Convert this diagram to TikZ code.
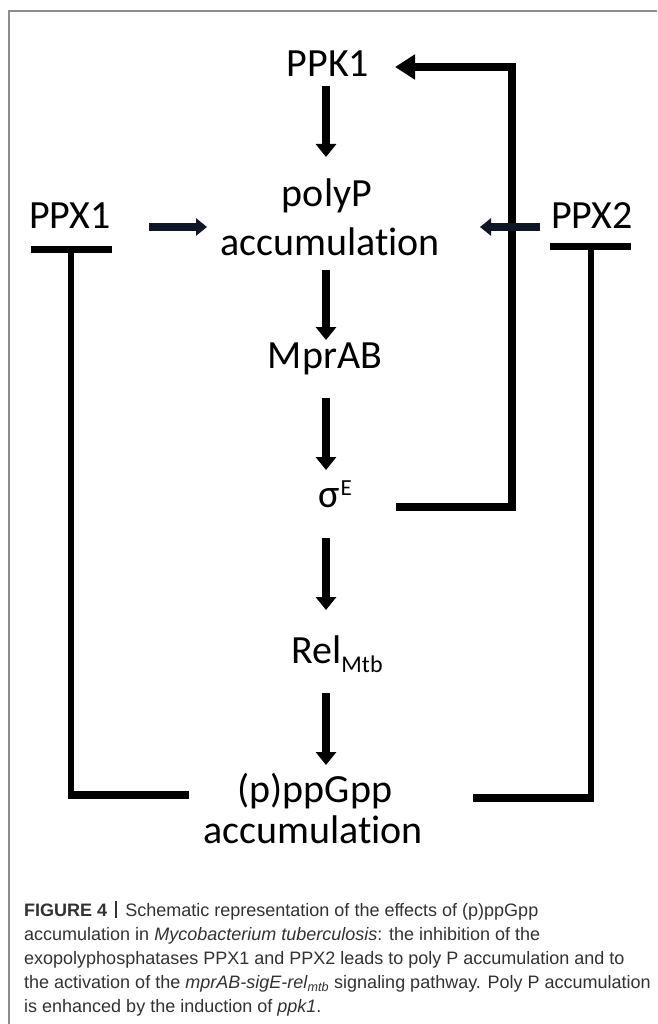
\documentclass[tikz,border=0pt]{standalone}
\usepackage{fontspec}
\usepackage{graphicx}
\usetikzlibrary{arrows.meta,calc}
\newfontfamily\carl[Ligatures=NoCommon]{Carlito}
\newfontfamily\capfont{Liberation Sans}
\definecolor{framegray}{RGB}{140,140,140}
\definecolor{capgray}{RGB}{50,50,50}
\definecolor{navyarr}{RGB}{14,22,40}
\tikzset{
  lbl/.style={font=\carl\fontsize{40}{48}\selectfont, inner sep=0pt, text height=28pt, text depth=9pt, anchor=base},
  captxt/.style={font=\capfont\fontsize{18}{24}\selectfont, inner sep=0pt, anchor=base west, text=capgray},
  varr/.style={line width=8pt, -{Triangle[length=13pt,width=20pt]}},
  harr/.style={line width=8pt, draw=navyarr, -{Triangle[length=11pt,width=17pt]}, color=navyarr},
  fbarr/.style={line width=8pt, line join=miter, -{Triangle[length=20pt,width=24pt]}},
  inhbar/.style={line width=7pt},
  inhline/.style={line width=6pt},
  inhfoot/.style={line width=8pt}
}
\begin{document}
\begin{tikzpicture}[x=1pt,y=-1pt]
\useasboundingbox (0,0) rectangle (657,1024);
\fill[white] (0,0) rectangle (657,1024);
% frame
\draw[framegray, line width=1.5pt] (9,1024) -- (9,11) -- (657,11);

% nodes
\node[lbl] (ppk) at (328,77) {PPK1};
\node[lbl] (polyp) at (327,207) {polyP};
\node[lbl] (polyacc) at (330,255) {accumulation};
\node[lbl] (ppx1) at (70,229) {PPX1};
\node[lbl] (ppx2) at (592,229) {PPX2};
\node[lbl] (mprab) at (325,368) {MprAB};
\node[lbl] (sig) at (335,507) {σ\kern1pt\raisebox{12pt}{\fontsize{23}{23}\selectfont E}};
\node[lbl] (rel) at (337,663) {Rel\raisebox{-9pt}{\fontsize{24}{24}\selectfont Mtb}};
\node[lbl] (ppg) at (315,802) {(p)ppGpp};
\node[lbl] (ppgacc) at (313,843) {accumulation};

% main vertical chain
\draw[varr] ($(ppk.base)+(-2,9)$) -- ($(polyp.base)+(-1,-50)$);
\draw[varr] ($(polyacc.base)+(-4,15)$) -- ($(mprab.base)+(1,-28)$);
\draw[varr] ($(mprab.base)+(1,30)$) -- ($(sig.base)+(-9,-37)$);
\draw[varr] ($(sig.base)+(-9,31)$) -- ($(rel.base)+(-11,-53)$);
\draw[varr] ($(rel.base)+(-11,30)$) -- ($(ppg.base)+(11,-37)$);

% feedback sigma E -> PPK1
\draw[fbarr] ($(sig.base)+(61,0)$) -| ($(ppk.base)+(184,-10)$) -- ($(ppk.base)+(67,-10)$);

% PPX arrows to polyP accumulation
\draw[harr] ($(ppx1.base)+(79,-2)$) -- ($(polyacc.base)+(-123,-28)$);
\draw[harr] ($(ppx2.base)+(-52,-2)$) -- ($(polyacc.base)+(150,-28)$);

% inhibition of PPX1
\draw[inhbar] ($(ppx1.base)+(-39,20)$) -- ++(81,0);
\path ($(ppx1.base)+(1,20)$) coordinate (i1a);
\path ($(ppg.base)+(-126,-7)$) coordinate (i1b);
\draw[inhline] (i1a) -- ([yshift=-1pt]i1a |- i1b);
\draw[inhfoot] ([xshift=-3pt]i1a |- i1b) -- (i1b);

% inhibition of PPX2
\draw[inhbar] ($(ppx2.base)+(-42,17)$) -- ++(81,0);
\path ($(ppx2.base)+(-1,17)$) coordinate (i2a);
\path ($(ppg.base)+(158,-4)$) coordinate (i2b);
\draw[inhline] (i2a) -- ([yshift=-1pt]i2a |- i2b);
\draw[inhfoot] ([xshift=3pt]i2a |- i2b) -- (i2b);

% caption
\node[captxt] (cap1) at (24,916) {\textbf{FIGURE 4}\hspace{8pt}\rule[-2pt]{2.2pt}{17pt}\hspace{8pt}Schematic representation of the effects of (p)ppGpp};
\node[captxt] (cap2) at (24,940) {accumulation in \textit{Mycobacterium tuberculosis}: the inhibition of the};
\node[captxt] (cap3) at (24,964) {exopolyphosphatases PPX1 and PPX2 leads to poly P accumulation and to};
\node[captxt] (cap4) at (24,988) {the activation of the \textit{mprAB-sigE-rel}\textsubscript{\textit{mtb}} signaling pathway. Poly P accumulation};
\node[captxt] (cap5) at (24,1012) {is enhanced by the induction of \textit{ppk1}.};
\end{tikzpicture}
\end{document}
